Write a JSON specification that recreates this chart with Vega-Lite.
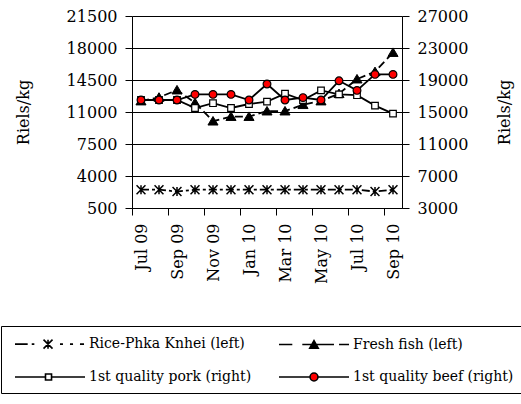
{
  "$schema": "https://vega.github.io/schema/vega-lite/v6.json",
  "width": 270,
  "height": 192,
  "autosize": {"type": "none"},
  "padding": {"left": 132, "top": 16, "right": 119, "bottom": 196},
  "background": "white",
  "config": {
    "view": {"stroke": null},
    "font": "DejaVu Serif",
    "axis": {
      "labelFont": "DejaVu Serif", "labelFontSize": 16, "labelColor": "black",
      "titleFont": "DejaVu Serif", "titleFontSize": 16, "titleFontWeight": "normal", "titleColor": "black",
      "domainColor": "black", "tickColor": "black", "gridColor": "black",
      "tickSize": 7, "labelPadding": 8, "domainWidth": 1, "tickWidth": 1, "gridWidth": 1
    },
    "legend": {"labelFont": "DejaVu Serif", "labelFontSize": 14, "labelColor": "black", "labelLimit": 400}
  },
  "data": {"values": [
    {"month": "Jul 09", "series": "Rice-Phka Knhei (left)", "value": 2500},
    {"month": "Aug 09", "series": "Rice-Phka Knhei (left)", "value": 2500},
    {"month": "Sep 09", "series": "Rice-Phka Knhei (left)", "value": 2300},
    {"month": "Oct 09", "series": "Rice-Phka Knhei (left)", "value": 2500},
    {"month": "Nov 09", "series": "Rice-Phka Knhei (left)", "value": 2500},
    {"month": "Dec 09", "series": "Rice-Phka Knhei (left)", "value": 2500},
    {"month": "Jan 10", "series": "Rice-Phka Knhei (left)", "value": 2500},
    {"month": "Feb 10", "series": "Rice-Phka Knhei (left)", "value": 2500},
    {"month": "Mar 10", "series": "Rice-Phka Knhei (left)", "value": 2500},
    {"month": "Apr 10", "series": "Rice-Phka Knhei (left)", "value": 2500},
    {"month": "May 10", "series": "Rice-Phka Knhei (left)", "value": 2500},
    {"month": "Jun 10", "series": "Rice-Phka Knhei (left)", "value": 2500},
    {"month": "Jul 10", "series": "Rice-Phka Knhei (left)", "value": 2500},
    {"month": "Aug 10", "series": "Rice-Phka Knhei (left)", "value": 2300},
    {"month": "Sep 10", "series": "Rice-Phka Knhei (left)", "value": 2500},
    {"month": "Jul 09", "series": "Fresh fish (left)", "value": 12200},
    {"month": "Aug 09", "series": "Fresh fish (left)", "value": 12600},
    {"month": "Sep 09", "series": "Fresh fish (left)", "value": 13400},
    {"month": "Oct 09", "series": "Fresh fish (left)", "value": 12000},
    {"month": "Nov 09", "series": "Fresh fish (left)", "value": 10000},
    {"month": "Dec 09", "series": "Fresh fish (left)", "value": 10500},
    {"month": "Jan 10", "series": "Fresh fish (left)", "value": 10500},
    {"month": "Feb 10", "series": "Fresh fish (left)", "value": 11100},
    {"month": "Mar 10", "series": "Fresh fish (left)", "value": 11100},
    {"month": "Apr 10", "series": "Fresh fish (left)", "value": 11800},
    {"month": "May 10", "series": "Fresh fish (left)", "value": 12200},
    {"month": "Jun 10", "series": "Fresh fish (left)", "value": 13000},
    {"month": "Jul 10", "series": "Fresh fish (left)", "value": 14600},
    {"month": "Aug 10", "series": "Fresh fish (left)", "value": 15400},
    {"month": "Sep 10", "series": "Fresh fish (left)", "value": 17500},
    {"month": "Jul 09", "series": "1st quality pork (right)", "value": 16500},
    {"month": "Aug 09", "series": "1st quality pork (right)", "value": 16500},
    {"month": "Sep 09", "series": "1st quality pork (right)", "value": 16500},
    {"month": "Oct 09", "series": "1st quality pork (right)", "value": 15500},
    {"month": "Nov 09", "series": "1st quality pork (right)", "value": 16100},
    {"month": "Dec 09", "series": "1st quality pork (right)", "value": 15500},
    {"month": "Jan 10", "series": "1st quality pork (right)", "value": 16000},
    {"month": "Feb 10", "series": "1st quality pork (right)", "value": 16300},
    {"month": "Mar 10", "series": "1st quality pork (right)", "value": 17300},
    {"month": "Apr 10", "series": "1st quality pork (right)", "value": 16500},
    {"month": "May 10", "series": "1st quality pork (right)", "value": 17700},
    {"month": "Jun 10", "series": "1st quality pork (right)", "value": 17200},
    {"month": "Jul 10", "series": "1st quality pork (right)", "value": 17100},
    {"month": "Aug 10", "series": "1st quality pork (right)", "value": 15800},
    {"month": "Sep 10", "series": "1st quality pork (right)", "value": 14800},
    {"month": "Jul 09", "series": "1st quality beef (right)", "value": 16500},
    {"month": "Aug 09", "series": "1st quality beef (right)", "value": 16500},
    {"month": "Sep 09", "series": "1st quality beef (right)", "value": 16500},
    {"month": "Oct 09", "series": "1st quality beef (right)", "value": 17200},
    {"month": "Nov 09", "series": "1st quality beef (right)", "value": 17200},
    {"month": "Dec 09", "series": "1st quality beef (right)", "value": 17200},
    {"month": "Jan 10", "series": "1st quality beef (right)", "value": 16500},
    {"month": "Feb 10", "series": "1st quality beef (right)", "value": 18500},
    {"month": "Mar 10", "series": "1st quality beef (right)", "value": 16500},
    {"month": "Apr 10", "series": "1st quality beef (right)", "value": 16800},
    {"month": "May 10", "series": "1st quality beef (right)", "value": 16500},
    {"month": "Jun 10", "series": "1st quality beef (right)", "value": 18900},
    {"month": "Jul 10", "series": "1st quality beef (right)", "value": 17700},
    {"month": "Aug 10", "series": "1st quality beef (right)", "value": 19700},
    {"month": "Sep 10", "series": "1st quality beef (right)", "value": 19700}
  ]},
  "encoding": {
    "x": {
      "field": "month", "type": "ordinal",
      "scale": {"type": "point", "padding": 0.5, "domain": ["Jul 09","Aug 09","Sep 09","Oct 09","Nov 09","Dec 09","Jan 10","Feb 10","Mar 10","Apr 10","May 10","Jun 10","Jul 10","Aug 10","Sep 10"]},
      "axis": {"values": ["Jul 09","Sep 09","Nov 09","Jan 10","Mar 10","May 10","Jul 10","Sep 10"], "labelAngle": -90, "tickOffset": -9, "labelOffset": 9, "title": null, "grid": false}
    }
  },
  "layer": [
    {
      "encoding": {
        "y": {"field": "value", "type": "quantitative",
          "scale": {"domain": [500, 21500], "nice": false, "zero": false},
          "axis": {"orient": "left", "values": [500, 4000, 7500, 11000, 14500, 18000, 21500], "format": "d", "grid": true, "title": "Riels/kg", "titleX": -109, "titleY": 96, "titleAngle": 270, "titleBaseline": "middle", "titleAlign": "center"}}
      },
      "layer": [
        {
          "transform": [{"filter": "datum.series === 'Rice-Phka Knhei (left)'"}],
          "mark": {"type": "line", "color": "black", "strokeWidth": 1.8, "strokeDash": [8, 3, 3, 3]},
          "encoding": {"order": {"value": null}}
        },
        {
          "transform": [{"filter": "datum.series === 'Fresh fish (left)'"}],
          "mark": {"type": "line", "color": "black", "strokeWidth": 1.8, "strokeDash": [8, 4]},
          "encoding": {"order": {"value": null}}
        },
        {
          "transform": [{"filter": "datum.series === 'Rice-Phka Knhei (left)'"}],
          "mark": {"type": "point", "filled": false, "opacity": 1, "stroke": "black", "strokeWidth": 1.5, "size": 60, "shape": "M-1.15,-1.15L1.15,1.15M-1.15,1.15L1.15,-1.15M0,-1.15L0,1.15"}
        },
        {
          "transform": [{"filter": "datum.series === 'Fresh fish (left)'"}],
          "mark": {"type": "point", "filled": true, "opacity": 1, "fill": "black", "stroke": "black", "strokeWidth": 1, "size": 60, "shape": "M0,-1.2L-1.3,1L1.3,1Z"}
        }
      ]
    },
    {
      "encoding": {
        "y": {"field": "value", "type": "quantitative",
          "scale": {"domain": [3000, 27000], "nice": false, "zero": false},
          "axis": {"orient": "right", "values": [3000, 7000, 11000, 15000, 19000, 23000, 27000], "format": "d", "grid": false, "title": "Riels/kg", "titleX": 102, "titleY": 96, "titleAngle": 270, "titleBaseline": "middle", "titleAlign": "center"}}
      },
      "layer": [
        {
          "transform": [{"filter": "datum.series === '1st quality pork (right)'"}],
          "mark": {"type": "line", "color": "black", "strokeWidth": 1.8},
          "encoding": {"order": {"value": null}}
        },
        {
          "transform": [{"filter": "datum.series === '1st quality beef (right)'"}],
          "mark": {"type": "line", "color": "black", "strokeWidth": 1.8},
          "encoding": {"order": {"value": null}}
        },
        {
          "transform": [{"filter": "datum.series === '1st quality pork (right)'"}],
          "mark": {"type": "point", "filled": true, "opacity": 1, "fill": "white", "stroke": "black", "strokeWidth": 1.2, "size": 60, "shape": "M-0.85,-0.85H0.85V0.85H-0.85Z"}
        },
        {
          "transform": [{"filter": "datum.series === '1st quality beef (right)'"}],
          "mark": {"type": "point", "filled": true, "opacity": 1, "fill": "#ff0000", "stroke": "black", "strokeWidth": 1.2, "size": 60, "shape": "circle"}
        }
      ]
    },
    {
      "mark": {"type": "point", "filled": true, "opacity": 0, "strokeWidth": 1.6, "size": 324},
      "encoding": {
        "shape": {"field": "series", "type": "nominal",
          "scale": {"domain": ["Rice-Phka Knhei (left)", "Fresh fish (left)", "1st quality pork (right)", "1st quality beef (right)"],
            "range": [
              "M-3.89,0H-2.48M-2.03,0H-1.74M-0.72,-0.5L0.28,0.5M-0.72,0.5L0.28,-0.5M-0.22,-0.5V0.5M1.11,0H1.44M2.22,0H2.56M3.33,0H3.78",
              "M-3.89,0H-2.41M-1.3,0H-0.2M0.2,0H2.22M2.78,0H3.89M-0.47,0.41L0,-0.42L0.47,0.41Z",
              "M-3.89,0H-0.5M0.17,0H3.89M-0.5,-0.33H0.17V0.33H-0.5Z",
              "M-3.89,0H-0.44M0.44,0H3.89M-0.44,0A0.44,0.44 0 1,0 0.44,0A0.44,0.44 0 1,0 -0.44,0Z"
            ]},
          "legend": {
            "title": null, "orient": "none", "legendX": -131, "legendY": 310, "columns": 2, "direction": "horizontal",
            "padding": 8, "columnPadding": 21, "rowPadding": 15, "symbolOffset": 31, "labelOffset": 29,
            "symbolSize": 324, "symbolStrokeWidth": 1.6, "symbolOpacity": 1,
            "strokeColor": "black", "fillColor": "white"
          }
        },
        "fill": {"field": "series", "type": "nominal",
          "scale": {"domain": ["Rice-Phka Knhei (left)", "Fresh fish (left)", "1st quality pork (right)", "1st quality beef (right)"],
            "range": ["transparent", "black", "white", "#ff0000"]},
          "legend": {
            "title": null, "orient": "none", "legendX": -131, "legendY": 310, "columns": 2, "direction": "horizontal",
            "padding": 8, "columnPadding": 21, "rowPadding": 15, "symbolOffset": 31, "labelOffset": 29,
            "symbolSize": 324, "symbolStrokeWidth": 1.6, "symbolOpacity": 1,
            "strokeColor": "black", "fillColor": "white"
          }
        },
        "stroke": {"field": "series", "type": "nominal",
          "scale": {"domain": ["Rice-Phka Knhei (left)", "Fresh fish (left)", "1st quality pork (right)", "1st quality beef (right)"],
            "range": ["black", "black", "black", "black"]},
          "legend": {
            "title": null, "orient": "none", "legendX": -131, "legendY": 310, "columns": 2, "direction": "horizontal",
            "padding": 8, "columnPadding": 21, "rowPadding": 15, "symbolOffset": 31, "labelOffset": 29,
            "symbolSize": 324, "symbolStrokeWidth": 1.6, "symbolOpacity": 1,
            "strokeColor": "black", "fillColor": "white"
          }
        }
      }
    }
  ],
  "resolve": {"scale": {"y": "independent"}}
}
